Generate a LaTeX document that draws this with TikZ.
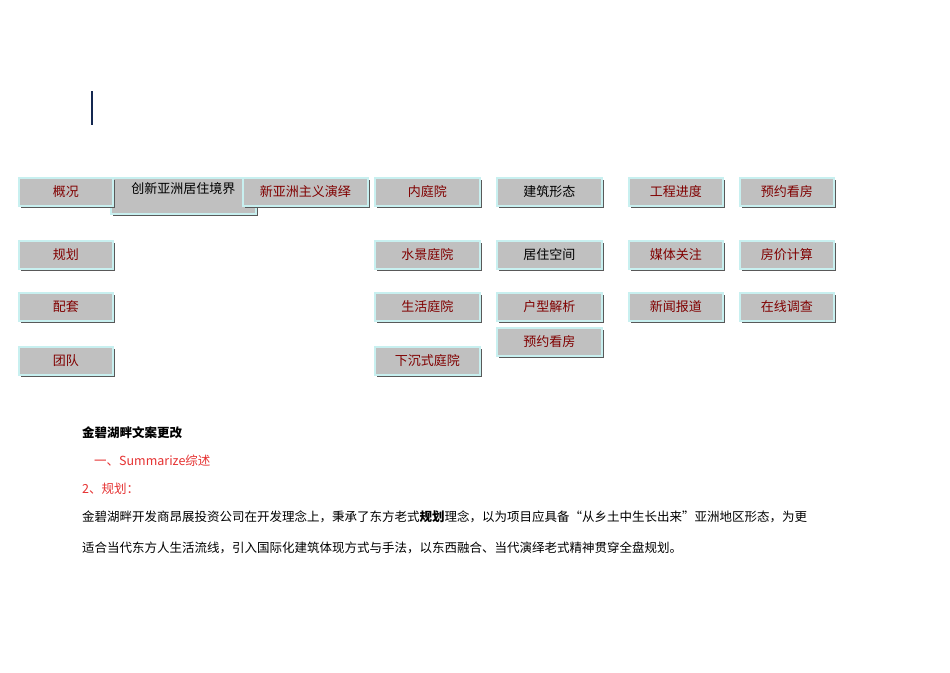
\documentclass[tikz,border=0pt]{standalone}
\usepackage{fontspec}
\setmainfont{Liberation Serif}
\newfontfamily\cjk{Noto Sans CJK SC}
\usetikzlibrary{shadows}
\definecolor{btngray}{RGB}{192,192,192}
\definecolor{btnedge}{RGB}{200,240,240}
\definecolor{dred}{RGB}{128,0,0}
\definecolor{navy}{RGB}{20,40,80}
\definecolor{pinkred}{RGB}{230,50,50}
\tikzset{
 btn/.style={draw=btnedge,line width=1.5pt,fill=btngray,anchor=north west,inner sep=0pt,
   minimum height=28pt,font=\cjk\fontsize{13}{13}\selectfont,text=dred,
   drop shadow={shadow xshift=2pt,shadow yshift=-2pt,fill=black!65,opacity=1}},
 w94/.style={minimum width=94pt},
 w105/.style={minimum width=105pt},
 body/.style={anchor=west,inner sep=0pt,font=\cjk\fontsize{12.5}{12.5}\selectfont}
}
\begin{document}
\begin{tikzpicture}[x=1pt,y=1pt]
\useasboundingbox (0,0) rectangle (950,-672);
\fill[white] (0,0) rectangle (950,-672);
\draw[navy,line width=2pt] (92,-91) -- (92,-125);
% row 1
\node[btn,minimum width=145pt,minimum height=36pt,text=black,text depth=16pt] (cx) at (110,-177) {创新亚洲居住境界};
\node[btn,w94] (gk) at (18,-177) {概况};
\node[btn,minimum width=125pt] (xyz) at (242,-177) {新亚洲主义演绎};
\node[btn,w105] (nty) at (374,-177) {内庭院};
\node[btn,w105,text=black] (jz) at (496,-177) {建筑形态};
\node[btn,w94] (gc) at (628,-177) {工程进度};
\node[btn,w94] (yy1) at (739,-177) {预约看房};
% row 2
\node[btn,w94] (gh) at (18,-240) {规划};
\node[btn,w105] (sj) at (374,-240) {水景庭院};
\node[btn,w105,text=black] (jk) at (496,-240) {居住空间};
\node[btn,w94] (mt) at (628,-240) {媒体关注};
\node[btn,w94] (fj) at (739,-240) {房价计算};
% row 3
\node[btn,w94] (pt) at (18,-292) {配套};
\node[btn,w105] (sh) at (374,-292) {生活庭院};
\node[btn,w105] (hx) at (496,-292) {户型解析};
\node[btn,w94] (xw) at (628,-292) {新闻报道};
\node[btn,w94] (zx) at (739,-292) {在线调查};
\node[btn,w105] (yy2) at (496,-327) {预约看房};
% row 4
\node[btn,w94] (td) at (18,-346) {团队};
\node[btn,w105] (xc) at (374,-346) {下沉式庭院};
% text
\node[body,font=\cjk\bfseries\fontsize{12.5}{12.5}\selectfont] (t0) at (82,-433) {金碧湖畔文案更改};
\node[body,text=pinkred] (t1) at (94,-461) {一、Summarize综述};
\node[body,text=pinkred] (t2) at (82,-489) {2、规划：};
\node[body] (t3) at (82,-517) {金碧湖畔开发商昂展投资公司在开发理念上，秉承了东方老式\textbf{规划}理念，以为项目应具备“从乡土中生长出来”亚洲地区形态，为更};
\node[body] (t4) at (82,-548) {适合当代东方人生活流线，引入国际化建筑体现方式与手法，以东西融合、当代演绎老式精神贯穿全盘规划。};
\end{tikzpicture}
\end{document}
